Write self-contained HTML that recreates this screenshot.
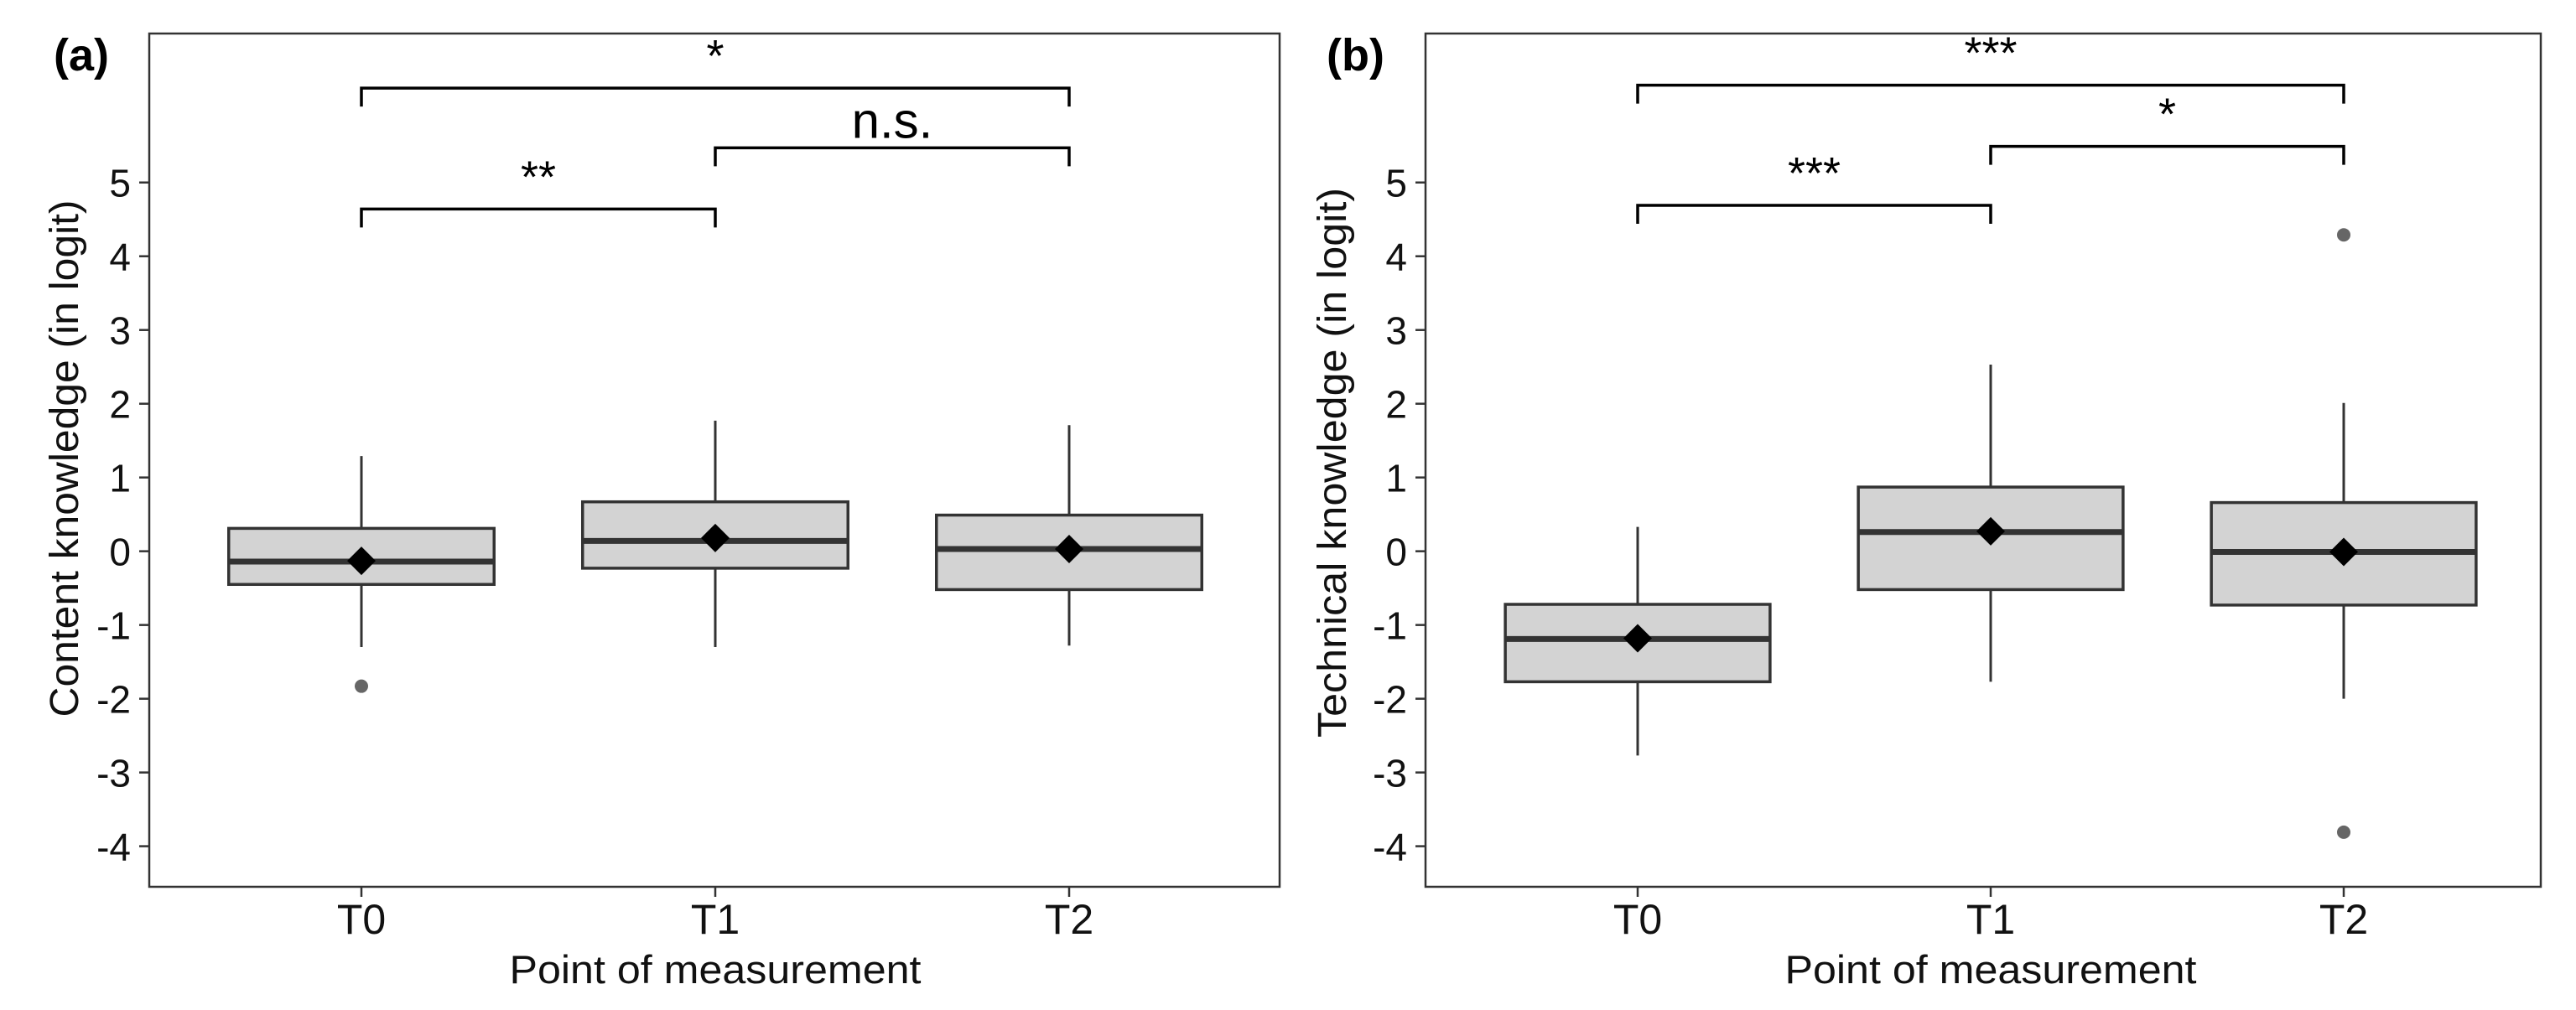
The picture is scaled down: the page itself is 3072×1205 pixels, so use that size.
<!DOCTYPE html>
<html><head><meta charset="utf-8"><style>
html,body{margin:0;padding:0;background:#fff;}
svg{display:block;font-family:"Liberation Sans",Arial,sans-serif;}
</style></head><body>
<svg id="chart" width="3072" height="1205" viewBox="0 0 3072 1205" xmlns="http://www.w3.org/2000/svg"></svg>
<script>
const categories = ["T0","T1","T2"];
const yTicks = [5,4,3,2,1,0,-1,-2,-3,-4];
// panel a: content knowledge
const aLowWhisker = [-1.30,-1.30,-1.28];
const aQ1 = [-0.45,-0.23,-0.52];
const aMedian = [-0.14,0.14,0.03];
const aQ3 = [0.31,0.67,0.49];
const aHighWhisker = [1.29,1.77,1.71];
const aMean = [-0.13,0.18,0.03];
const aOutliers = [[-1.83],[],[]];
const aBracketFrom = [0,1,0];
const aBracketTo = [1,2,2];
const aBracketY = [4.64,5.47,6.28];
const aBracketLabel = ["**","n.s.","*"];
// panel b: technical knowledge
const bLowWhisker = [-2.77,-1.77,-2.00];
const bQ1 = [-1.77,-0.52,-0.73];
const bMedian = [-1.19,0.26,-0.01];
const bQ3 = [-0.72,0.87,0.66];
const bHighWhisker = [0.33,2.53,2.01];
const bMean = [-1.18,0.27,-0.01];
const bOutliers = [[],[],[4.29,-3.81]];
const bBracketFrom = [0,1,0];
const bBracketTo = [1,2,2];
const bBracketY = [4.69,5.49,6.32];
const bBracketLabel = ["***","*","***"];

const NS="http://www.w3.org/2000/svg";
const svg=document.getElementById('chart');
function mk(tag,attrs,parent){const e=document.createElementNS(NS,tag);for(const k in attrs)e.setAttribute(k,attrs[k]);(parent||svg).appendChild(e);return e;}

function panel(p){
  const g=mk('g',{});
  
  
  const top=40,bottom=1058,left=p.left,right=p.right;
  const yMax=7.02,yMin=-4.55;
  const y=v=>top+(yMax-v)/(yMax-yMin)*(bottom-top);
  const step=p.step;
  const x=i=>p.x0+step*i;
  const frame=mk('rect',{x:left,y:top,width:right-left,height:bottom-top,fill:'none',stroke:'#333',"stroke-width":2.5},g);
  
  
  yTicks.forEach(t=>{
    const tk=mk('line',{x1:left-12,x2:left,y1:y(t),y2:y(t),stroke:'#333',"stroke-width":2.5},g);
    
    
    const tl=mk('text',{x:left-22,y:y(t)+17,"text-anchor":"end","font-size":46,fill:'#111'},g);
    tl.textContent=String(t);
    
    
  });
  categories.forEach((c,i)=>{
    const tk=mk('line',{x1:x(i),x2:x(i),y1:bottom,y2:bottom+12,stroke:'#333',"stroke-width":2.5},g);
    
    
    const tl=mk('text',{x:x(i),y:1114,"text-anchor":"middle","font-size":50,fill:'#111'},g);
    tl.textContent=c;
    
    
  });
  const hw=step*0.375;
  categories.forEach((c,i)=>{
    const bg=mk('g',{},g);
    
    
    mk('line',{x1:x(i),x2:x(i),y1:y(p.hi[i]),y2:y(p.q3[i]),stroke:'#333',"stroke-width":3},bg);
    mk('line',{x1:x(i),x2:x(i),y1:y(p.q1[i]),y2:y(p.lo[i]),stroke:'#333',"stroke-width":3},bg);
    mk('rect',{x:x(i)-hw,y:y(p.q3[i]),width:2*hw,height:y(p.q1[i])-y(p.q3[i]),fill:'#d3d3d3',stroke:'#333',"stroke-width":3.5},bg);
    mk('line',{x1:x(i)-hw,x2:x(i)+hw,y1:y(p.med[i]),y2:y(p.med[i]),stroke:'#333',"stroke-width":7},bg);
    p.out[i].forEach(o=>{
      const ot=mk('circle',{cx:x(i),cy:y(o),r:8,fill:'#666'},bg);
      
      
    });
    const m=y(p.mean[i]),s=17;
    const d=mk('polygon',{points:`${x(i)},${m-s} ${x(i)+s},${m} ${x(i)},${m+s} ${x(i)-s},${m}`,fill:'#000'},bg);
    
    
  });
  p.bf.forEach((f,k)=>{
    const t=p.bt[k],by=y(p.by[k]),tip=y(p.by[k]-0.25);
    const bk=mk('path',{d:`M${x(f)},${tip} L${x(f)},${by} L${x(t)},${by} L${x(t)},${tip}`,fill:'none',stroke:'#000',"stroke-width":3.5},g);
    
    
    const lab=p.bl[k];
    const isNs=lab==='n.s.';
    const tx=mk('text',{x:(x(f)+x(t))/2,y:by-(isNs?12:20),"text-anchor":"middle","font-size":isNs?60:54,fill:'#000'},g);
    tx.textContent=lab;
    
    
  });
  const xt=mk('text',{x:x(1),y:1173,"text-anchor":"middle","font-size":47,textLength:491,lengthAdjust:"spacingAndGlyphs",fill:'#111'},g);
  xt.textContent='Point of measurement';
  
  
  const yt=mk('text',{x:0,y:0,"text-anchor":"middle","font-size":48,textLength:p.ytLen,lengthAdjust:"spacingAndGlyphs",fill:'#111',transform:`translate(${p.ytX},${p.ytY}) rotate(-90)`},g);
  yt.textContent=p.ytitle;
  
  
  const pl=mk('text',{x:p.labX,y:84,"font-size":54,"font-weight":"bold",fill:'#000'},g);
  pl.textContent=p.label;
  
  
}
panel({id:'content',left:178,right:1526,x0:431,step:422,lo:aLowWhisker,q1:aQ1,med:aMedian,q3:aQ3,hi:aHighWhisker,mean:aMean,out:aOutliers,bf:aBracketFrom,bt:aBracketTo,by:aBracketY,bl:aBracketLabel,ytitle:'Content knowledge (in logit)',ytX:93,ytY:547,ytLen:617,label:'(a)',labX:64});
panel({id:'technical',left:1700,right:3030,x0:1953,step:421,lo:bLowWhisker,q1:bQ1,med:bMedian,q3:bQ3,hi:bHighWhisker,mean:bMean,out:bOutliers,bf:bBracketFrom,bt:bBracketTo,by:bBracketY,bl:bBracketLabel,ytitle:'Technical knowledge (in logit)',ytX:1605,ytY:552,ytLen:656,label:'(b)',labX:1582});
</script>
</body></html>
